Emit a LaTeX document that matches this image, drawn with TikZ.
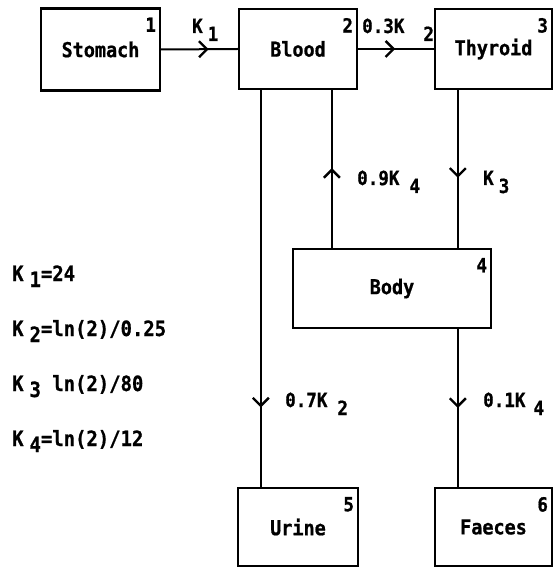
\documentclass[tikz,border=0pt]{standalone}
\usepackage{fontspec}
\usepackage{tikz}
\usetikzlibrary{
	arrows.meta,
	decorations.markings
}
\newfontfamily\lpfont{DejaVu Sans Mono}[FakeStretch=0.9, FakeBold=0.8]
\newcommand\ksub[2][10pt]{\hspace{#1}\raisebox{-8pt}{#2}}
\newcommand\kdef[2]{K\hspace{6pt}\raisebox{-6pt}{#1}#2}

\begin{document}
\begin{tikzpicture}[x=1pt, y=-1pt,
		comp/.style={draw, line width=2.3pt, inner sep=0pt, font=\lpfont\bfseries\fontsize{20.5}{22}\selectfont},
		num/.style={anchor=north east, inner sep=0pt, xshift=-5pt, yshift=-10pt, font=\lpfont\bfseries\fontsize{19.5}{21}\selectfont},
		rate/.style={anchor=base west, inner sep=0pt, font=\lpfont\bfseries\fontsize{19.5}{21}\selectfont},
		const/.style={rate, font=\lpfont\bfseries\fontsize{21}{23}\selectfont},
		flow/.style={line width=2pt, postaction={decorate},
			decoration={markings, mark=at position #1 with {\arrow{Straight Barb[length=8pt,width=16pt,line width=2.4pt]}}}}]
		\useasboundingbox (0,0) rectangle (554,569);
		
		% compartments
		\node[comp, minimum width=119pt, minimum height=82pt, label={[num]north east:1}] (stomach) at (100.5,49.5) {Stomach};
		\node[comp, minimum width=118pt, minimum height=80pt, label={[num]north east:2}] (blood) at (298,49) {Blood};
		\node[comp, minimum width=117pt, minimum height=80pt, label={[num]north east:3}] (thyroid) at (493.5,49) {Thyroid};
		\node[comp, minimum width=198pt, minimum height=79pt, label={[num]north east:4}] (body) at (392,288.5) {Body};
		\node[comp, minimum width=120pt, minimum height=78pt, label={[num]north east:5}] (urine) at (298,527) {Urine};
		\node[comp, minimum width=117pt, minimum height=78pt, label={[num]north east:6}] (faeces) at (493.5,527) {Faeces};
		
		% free ends of the vertical flows
		\coordinate (bu) at ([xshift=23pt]blood.south west);
		\coordinate (bb) at ([xshift=40pt]body.north west);
		\coordinate (tb) at ([xshift=24pt]thyroid.south west);
		\coordinate (bf) at (tb |- body.south);
		
		% flows
		\draw[flow=0.62] (stomach.east) -- (blood.west);
		\draw[flow=0.49] (blood.east) -- (thyroid.west);
		\draw[flow=0.8] (bu) -- (bu |- urine.north);
		\draw[flow=0.506] (bb) -- (bb |- blood.south);
		\draw[flow=0.556] (tb) -- (tb |- body.north);
		\draw[flow=0.5] (bf) -- (bf |- faeces.north);
		
		% rate labels
		\node[rate] (r1) at (192,33) {K\ksub[5pt]{1}};
		\node[rate] (r2) at (362,33) {0.3K\ksub[19pt]{2}};
		\node[rate] (r3) at (357,185) {0.9K\ksub{4}};
		\node[rate] (r4) at (483,185) {K\ksub[5pt]{3}};
		\node[rate] (r5) at (285,407) {0.7K\ksub{2}};
		\node[rate] (r6) at (483,407) {0.1K\ksub[8pt]{4}};
		
		% constants
		\node[const] (c1) at (12,281) {\kdef{1}{=24}};
		\node[const] (c2) at (12,336) {\kdef{2}{=ln(2)/0.25}};
		\node[const] (c3) at (12,391) {\kdef{3}{ ln(2)/80}};
		\node[const] (c4) at (12,446) {\kdef{4}{=ln(2)/12}};
	\end{tikzpicture}
\end{document}
